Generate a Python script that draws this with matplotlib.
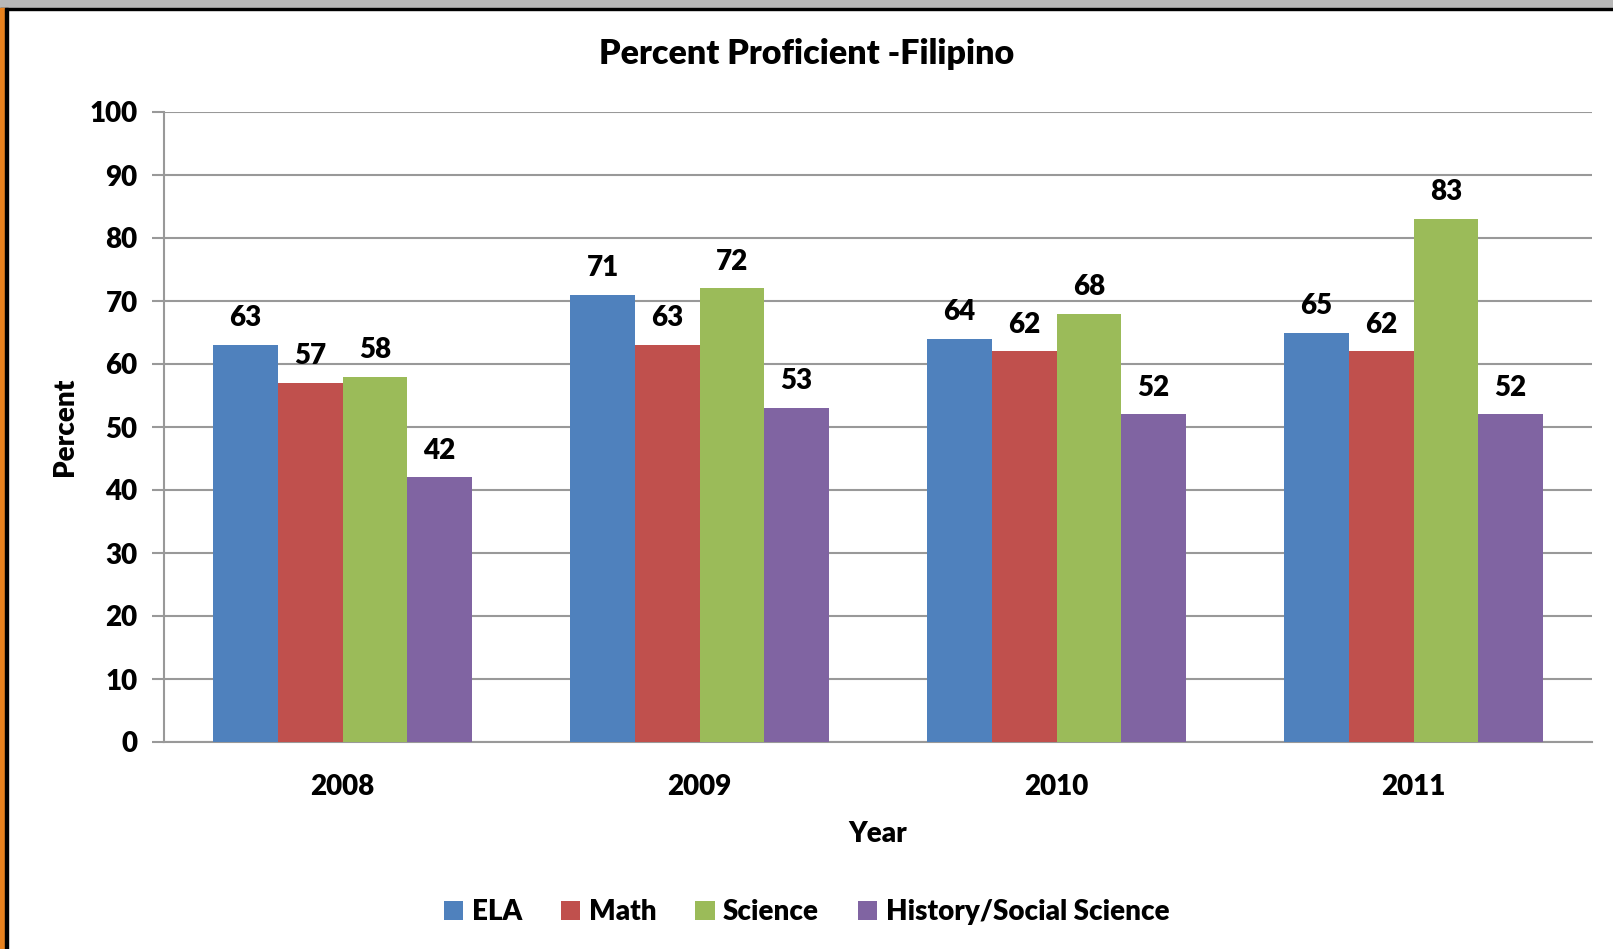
import numpy as np
import matplotlib.pyplot as plt
from matplotlib.patches import Rectangle

years = ["2008", "2009", "2010", "2011"]
subjects = ["ELA", "Math", "Science", "History/Social Science"]
ela = [63, 71, 64, 65]
math_ = [57, 63, 62, 62]
science = [58, 72, 68, 83]
history = [42, 53, 52, 52]
colors = ["#4f81bd", "#c0504d", "#9bbb59", "#8064a2"]

WT = 'heavy'
plt.rcParams['font.family'] = ['Lato', 'DejaVu Sans']
plt.rcParams['font.weight'] = WT

W, H = 1613, 949
fig = plt.figure(figsize=(W / 100, H / 100), dpi=100)
ax = fig.add_axes([164 / W, 1 - 742 / H, (1592 - 164) / W, (742 - 112) / H])

x = np.arange(len(years))
bw = 0.181
series = [ela, math_, science, history]
for i, (vals, c, name) in enumerate(zip(series, colors, subjects)):
    pos = x + (i - 1.5) * bw
    bars = ax.bar(pos, vals, bw, color=c, label=name, zorder=3)
    for b, v in zip(bars, vals):
        ax.text(b.get_x() + b.get_width() / 2, v + 2.2, str(v), ha='center', va='bottom',
                fontsize=20, fontweight=WT)

ax.set_xlim(-0.5, 3.5)
ax.set_ylim(0, 100)
ax.set_yticks(np.arange(0, 101, 10))
ax.set_xticks(x)
ax.set_xticklabels(years)
ax.grid(axis='y', color='#999999', linewidth=1.5, zorder=0)
ax.tick_params(axis='y', length=9, width=1.5, color='#999999', labelsize=20, pad=10)
ax.tick_params(axis='x', length=0, labelsize=20, pad=23)
for s in ['top', 'right']:
    ax.spines[s].set_visible(False)
for s in ['left', 'bottom']:
    ax.spines[s].set_color('#999999')
    ax.spines[s].set_linewidth(1.5)
for lbl in ax.get_xticklabels() + ax.get_yticklabels():
    lbl.set_fontweight(WT)

ax.set_xlabel("Year", fontsize=20, fontweight=WT, labelpad=15)
ax.set_ylabel("Percent", fontsize=20, fontweight=WT, labelpad=8)
fig.text(0.5, 1 - 54 / H, "Percent Proficient -Filipino", ha='center', va='center',
         fontsize=24.5, fontweight=WT)

fig.legend(loc='center', bbox_to_anchor=(0.5, 1 - 912 / H), ncol=4, frameon=False,
           fontsize=20, handlelength=0.7, handleheight=0.7, columnspacing=1.4, handletextpad=0.3)

# frame decoration
fig.patches.append(Rectangle((0, 1 - 8 / H), 1, 8 / H, transform=fig.transFigure,
                             color='#b8b8b8', zorder=10))
fig.patches.append(Rectangle((0, 1 - 10 / H), 1, 2.5 / H, transform=fig.transFigure,
                             color='black', zorder=10))
fig.patches.append(Rectangle((0, 0), 5 / W, 1 - 8 / H, transform=fig.transFigure,
                             color='#e8821e', zorder=10))
fig.patches.append(Rectangle((5 / W, 0), 2.5 / W, 1 - 8 / H, transform=fig.transFigure,
                             color='black', zorder=10))

fig.savefig("out.png", dpi=100)
